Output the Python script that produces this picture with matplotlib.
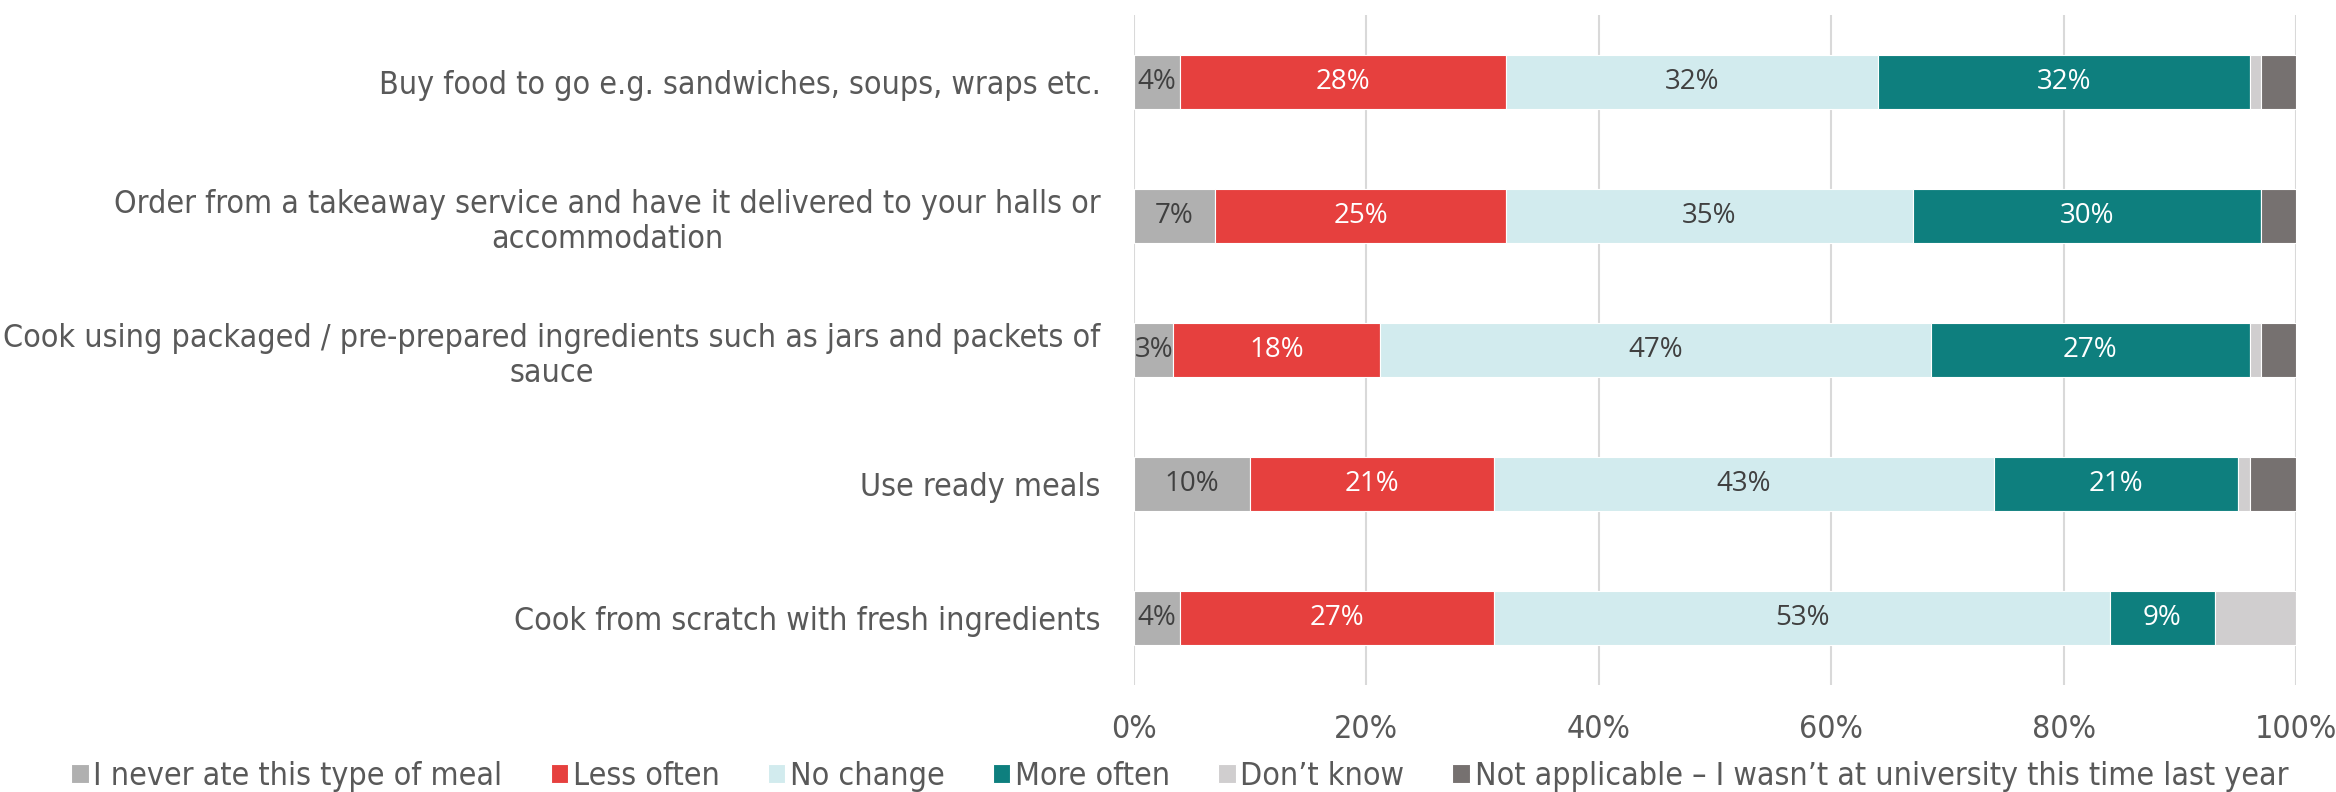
import matplotlib
matplotlib.use('Agg')
import matplotlib.pyplot as plt
import numpy as np

plt.rcParams['font.family'] = 'DejaVu Sans'
plt.rcParams['font.stretch'] = 'condensed'

categories = [
    'Buy food to go e.g. sandwiches, soups, wraps etc.',
    'Order from a takeaway service and have it delivered to your halls or\naccommodation',
    'Cook using packaged / pre-prepared ingredients such as jars and packets of\nsauce',
    'Use ready meals',
    'Cook from scratch with fresh ingredients',
]
series_names = [
    'I never ate this type of meal',
    'Less often',
    'No change',
    'More often',
    'Don’t know',
    'Not applicable – I wasn’t at university this time last year',
]
never_ate = [4, 7, 3.4, 10, 4]
less_often = [28, 25, 17.8, 21, 27]
no_change = [32, 35, 47.4, 43, 53]
more_often = [32, 30, 27.4, 21, 9]
dont_know = [1, 0, 1.0, 1, 7]
not_applicable = [3, 3, 3.0, 4, 0]

values = [never_ate, less_often, no_change, more_often, dont_know, not_applicable]
colors = ['#B0B0B0', '#E6403E', '#D2EBEE', '#0E7F7E', '#D0CECF', '#767170']
label_colors = ['#404040', 'white', '#404040', 'white', None, None]

text_grey = '#595959'
fs = 23

fig = plt.figure(figsize=(23.36, 7.92), dpi=100)
ax = fig.add_axes([0.4854, 0.135, 0.4975, 0.846])

y = np.arange(len(categories))
left = np.zeros(len(categories))
for vals, col, lcol, name in zip(values, colors, label_colors, series_names):
    vals = np.array(vals, dtype=float)
    bars = ax.barh(y, vals, left=left, height=0.4, color=col, edgecolor='white',
                   linewidth=0.8, label=name, zorder=3)
    if lcol is not None:
        for b, v in zip(bars, vals):
            if v <= 0:
                continue
            ax.text(b.get_x() + b.get_width() / 2, b.get_y() + b.get_height() / 2,
                    f'{round(v):d}%', ha='center', va='center', color=lcol,
                    fontsize=20, family='Open Sans', fontstretch='normal', zorder=4)
    left += vals

ax.set_xlim(0, 100)
ax.set_ylim(len(categories) - 0.5, -0.5)
ax.set_xticks(range(0, 101, 20))
ax.set_xticklabels([f'{t}%' for t in range(0, 101, 20)])
ax.set_yticks(y)
ax.set_yticklabels(categories)
for lab in ax.get_yticklabels():
    lab.set_multialignment('center')

ax.tick_params(axis='both', length=0, labelsize=fs, labelcolor=text_grey)
ax.tick_params(axis='x', pad=21)
ax.tick_params(axis='y', pad=24)
ax.grid(axis='x', color='#D9D9D9', linewidth=1.5, zorder=0)
for s in ax.spines.values():
    s.set_visible(False)

fig.legend(loc='center', bbox_to_anchor=(0.505, 0.02), ncol=6, frameon=False,
           fontsize=fs, labelcolor=text_grey, handlelength=0.55, handleheight=0.55,
           handletextpad=0.15, columnspacing=1.5, borderpad=0)

fig.savefig('out.png', dpi=100)
